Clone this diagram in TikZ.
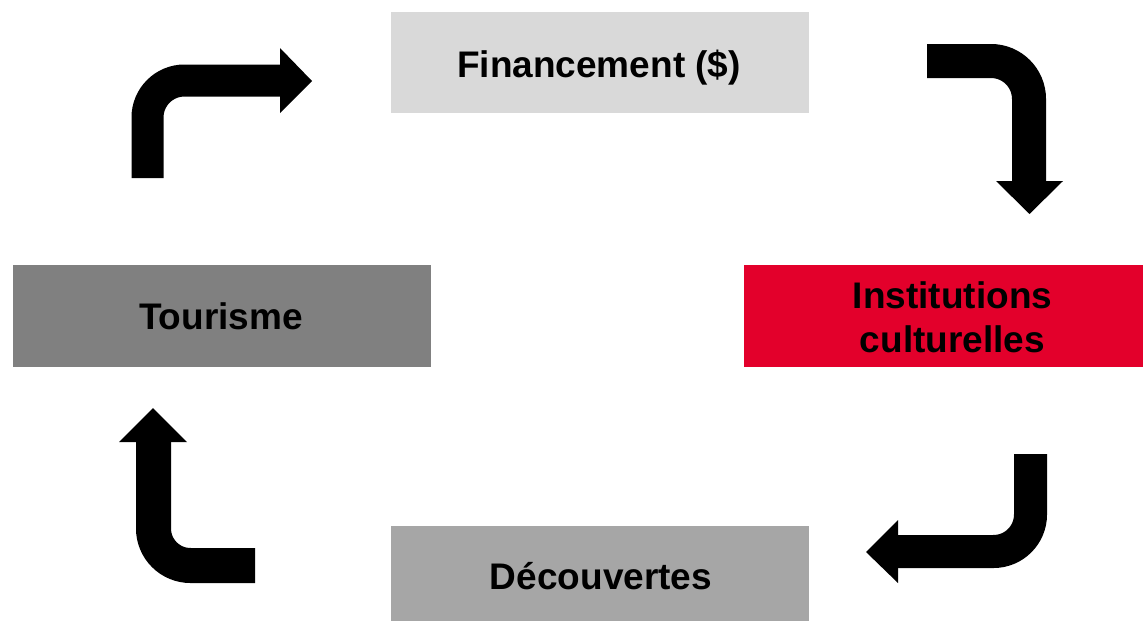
\documentclass[tikz,border=0pt]{standalone}
\usepackage{fontspec}
\setmainfont{Liberation Sans}
\definecolor{boxlight}{HTML}{D9D9D9}
\definecolor{boxdark}{HTML}{808080}
\definecolor{boxmid}{HTML}{A6A6A6}
\definecolor{boxred}{HTML}{E3002B}
\begin{document}
\begin{tikzpicture}[x=1pt,y=-1pt,
  box/.style={draw=none,inner sep=0pt,outer sep=0pt},
  label/.style={inner sep=0pt,outer sep=0pt,align=center,anchor=base,
    font=\fontsize{37}{44}\selectfont\bfseries,text=black},
  shaft/.style={draw=black,line cap=butt,line join=miter,rounded corners=37pt},
  head/.style={fill=black,draw=none}]
\useasboundingbox (0,0) rectangle (1143,621);
\fill[white] (0,0) rectangle (1143,621);
% boxes
\node[box,fill=boxlight,minimum width=418pt,minimum height=101pt] (fin) at (600,62.5) {};
\node[box,fill=boxdark,minimum width=418pt,minimum height=102pt] (tour) at (222,316) {};
\node[box,fill=boxred,minimum width=399pt,minimum height=102pt] (inst) at (943.5,316) {};
\node[box,fill=boxmid,minimum width=418pt,minimum height=95pt] (dec) at (600,573.5) {};
% texts
\node[label] (finT) at (599,77) {Financement (\$)};
\node[label] (tourT) at (221,329) {Tourisme};
\node[label] (instT) at (952.5,352) {Institutions\\culturelles};
\node[label] (decT) at (601,589) {Découvertes};
% arrow 1 (top-left)
\coordinate (a1s) at (147.5,178);
\coordinate (a1c) at (147.5,80.5);
\coordinate (a1e) at (281,80.5);
\draw[shaft,line width=32pt] (a1s) -- (a1c) -- (a1e);
\fill[head] (280,48) -- (312,81) -- (280,113) -- cycle;
% arrow 2 (top-right)
\coordinate (a2s) at (927,61);
\coordinate (a2c) at (1029,61);
\coordinate (a2e) at (1029,182);
\draw[shaft,line width=34pt,rounded corners=38pt] (a2s) -- (a2c) -- (a2e);
\fill[head] (996,181) -- (1029.5,214) -- (1063,181) -- cycle;
% arrow 3 (bottom-right)
\coordinate (a3s) at (1030.5,454);
\coordinate (a3c) at (1030.5,551.5);
\coordinate (a3e) at (897,551.5);
\draw[shaft,line width=33pt] (a3s) -- (a3c) -- (a3e);
\fill[head] (898,520) -- (866,552) -- (898,583) -- cycle;
% arrow 4 (bottom-left)
\coordinate (a4s) at (255,565.5);
\coordinate (a4c) at (153.5,565.5);
\coordinate (a4e) at (153.5,441);
\draw[shaft,line width=35pt] (a4s) -- (a4c) -- (a4e);
\fill[head] (119,442) -- (153,408) -- (187,442) -- cycle;
\end{tikzpicture}
\end{document}
